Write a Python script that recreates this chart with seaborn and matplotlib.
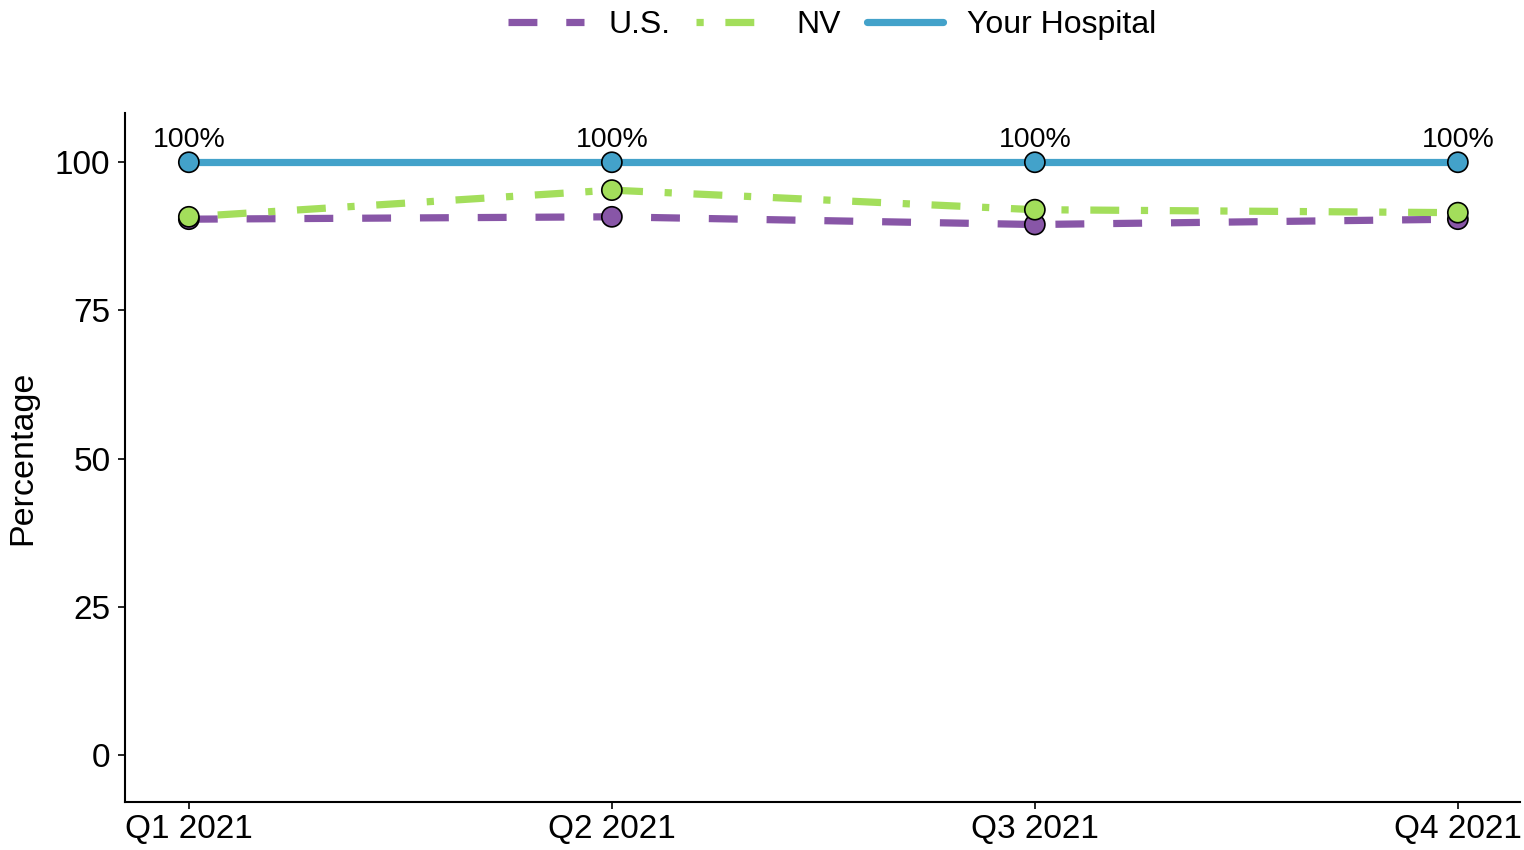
import matplotlib
matplotlib.use("Agg")
import matplotlib.pyplot as plt
import seaborn as sns
import pandas as pd

# Quarterly percentages by comparison group
quarters = ["Q1 2021", "Q2 2021", "Q3 2021", "Q4 2021"]
us_values = [90.4, 90.8, 89.5, 90.4]
nv_values = [90.8, 95.3, 92.0, 91.5]
hospital_values = [100, 100, 100, 100]
series_names = ["U.S.", "NV", "Your Hospital"]

colors = {"U.S.": "#8856A7", "NV": "#A3DE5B", "Your Hospital": "#43A2CA"}
dash_styles = {"U.S.": (4, 4), "NV": (1, 3, 4, 3), "Your Hospital": ""}

frames = []
for name, vals in zip(series_names, [us_values, nv_values, hospital_values]):
    frames.append(pd.DataFrame({"quarter": quarters, "x": range(len(quarters)),
                                "value": vals, "series": name}))
df = pd.concat(frames, ignore_index=True)

sns.set_style("ticks")
plt.rcParams["font.family"] = ["Liberation Sans", "DejaVu Sans"]
plt.rcParams["text.color"] = "black"
plt.rcParams["axes.labelcolor"] = "black"

fig = plt.figure(figsize=(15.24, 8.5), dpi=100)
ax = fig.add_axes([0.082, 0.0565, 0.9154, 0.8105])

sns.lineplot(data=df, x="x", y="value", hue="series", style="series",
             hue_order=series_names, style_order=series_names,
             palette=colors, dashes=dash_styles, linewidth=5.2, ax=ax,
             legend=True)
sns.scatterplot(data=df, x="x", y="value", hue="series", hue_order=series_names,
                palette=colors, s=210, edgecolor="black", linewidth=1.2,
                ax=ax, legend=False, zorder=5)

# Value labels for the hospital series
hosp = df[df["series"] == "Your Hospital"]
for xv, yv in zip(hosp["x"], hosp["value"]):
    ax.annotate(f"{yv:.0f}%", (xv, yv), xytext=(0, 7), textcoords="offset points",
                ha="center", va="bottom", fontsize=20.5)

ax.set_xlim(-0.151, 3.147)
ax.set_ylim(-7.9, 108.3)
ax.set_xticks(range(len(quarters)))
ax.set_xticklabels(quarters)
ax.set_yticks([0, 25, 50, 75, 100])
ax.tick_params(axis="both", labelsize=24, length=5, width=1.2, color="black",
               labelcolor="black")
ax.tick_params(axis="y", pad=5.5)
ax.tick_params(axis="x", pad=3.5)
ax.set_xlabel("")
ax.set_ylabel("Percentage", fontsize=24.5, labelpad=12)
for side in ["top", "right"]:
    ax.spines[side].set_visible(False)
for side in ["left", "bottom"]:
    ax.spines[side].set_linewidth(1.5)
    ax.spines[side].set_color("black")

handles, labels = ax.get_legend_handles_labels()
ax.get_legend().remove()
fig.legend(handles, labels, loc="upper center", bbox_to_anchor=(0.546, 1.022),
           ncol=3, frameon=False, fontsize=23, handlelength=2.4,
           handletextpad=0.75, columnspacing=0.8)

fig.savefig("out.png", dpi=100)
